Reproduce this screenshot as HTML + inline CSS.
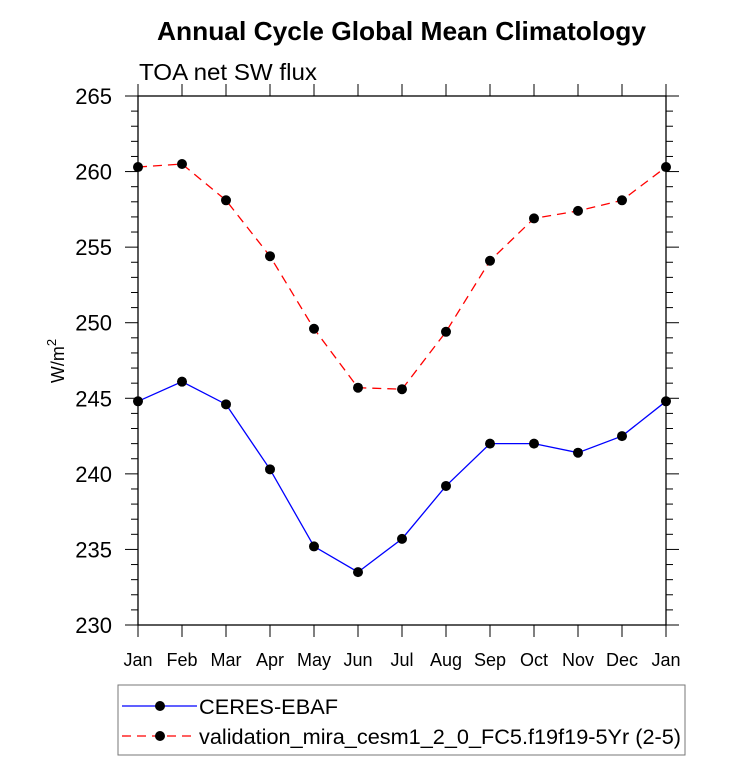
<!DOCTYPE html>
<html><head><meta charset="utf-8"><style>
body{margin:0;background:#fff}
svg text{font-family:"Liberation Sans",sans-serif}
</style></head><body>
<svg width="733" height="777" xmlns="http://www.w3.org/2000/svg">
<g id="g"></g>
</svg>
<script>
const months=["Jan","Feb","Mar","Apr","May","Jun","Jul","Aug","Sep","Oct","Nov","Dec","Jan"];
const ceres=[244.8,246.1,244.6,240.3,235.2,233.5,235.7,239.2,242.0,242.0,241.4,242.5,244.8];
const model=[260.3,260.5,258.1,254.4,249.6,245.7,245.6,249.4,254.1,256.9,257.4,258.1,260.3];
const yTicks=[230,235,240,245,250,255,260,265];
const L=138,R=666,T=96,B=625,ymin=230,ymax=265;
const X=i=>L+i*(R-L)/12;
const Y=v=>B-(v-ymin)/(ymax-ymin)*(B-T);
const NS="http://www.w3.org/2000/svg";
const g=document.getElementById('g');
function el(t,a,txt){const e=document.createElementNS(NS,t);for(const k in a)e.setAttribute(k,a[k]);if(txt!==undefined)e.textContent=txt;g.appendChild(e);return e;}
let e;
e=el('text',{x:157,y:40,'font-size':26,'font-weight':'bold',textLength:489,lengthAdjust:'spacingAndGlyphs'},'Annual Cycle Global Mean Climatology');

e=el('text',{x:139,y:80,'font-size':23,textLength:178,lengthAdjust:'spacingAndGlyphs'},'TOA net SW flux');

e=el('rect',{x:L,y:T,width:R-L,height:B-T,fill:'none',stroke:'#000','stroke-width':1.3});

for(let v=ymin;v<=ymax;v++){const maj=(v%5===0);const len=maj?13:7;
 e=el('line',{x1:L-len,x2:L,y1:Y(v),y2:Y(v),stroke:'#000','stroke-width':1});
 
 e=el('line',{x1:R,x2:R+len,y1:Y(v),y2:Y(v),stroke:'#000','stroke-width':1});
 }
yTicks.forEach(v=>{e=el('text',{x:112,y:Y(v)+8,'font-size':22,'text-anchor':'end'},String(v));
 });
months.forEach((m,i)=>{
 e=el('line',{x1:X(i),x2:X(i),y1:B,y2:B+12,stroke:'#000'});
 e=el('line',{x1:X(i),x2:X(i),y1:T-12,y2:T,stroke:'#000'});
 e=el('text',{x:X(i),y:666,'font-size':18,'text-anchor':'middle'},m);});
e=el('text',{x:0,y:0,'font-size':18,'text-anchor':'middle',transform:'translate(64,361) rotate(-90)'});
e.innerHTML='W/m<tspan dy="-8" font-size="13">2</tspan>';

function series(vals,color,dash,name){
 e=el('polyline',{points:vals.map((v,i)=>X(i)+','+Y(v)).join(' '),fill:'none',stroke:color,'stroke-width':1.3,'stroke-dasharray':dash});
 
 vals.forEach((v,i)=>{e=el('circle',{cx:X(i),cy:Y(v),r:5,fill:'#000'});
 });}
series(model,'#ff0000','9 6','model');
series(ceres,'#0000ff','none','ceres');
e=el('rect',{x:118,y:685,width:567,height:70,fill:'none',stroke:'#777','stroke-width':1});

[['#0000ff','none','CERES-EBAF',706,139],['#ff0000','9 6','validation_mira_cesm1_2_0_FC5.f19f19-5Yr (2-5)',736,482]].forEach(([c,d,t,y,w])=>{
 e=el('line',{x1:122,x2:197,y1:y,y2:y,stroke:c,'stroke-width':1.3,'stroke-dasharray':d});
 e=el('circle',{cx:160,cy:y,r:5,fill:'#000'});
 e=el('text',{x:199,y:y+8,'font-size':21,textLength:w,lengthAdjust:'spacingAndGlyphs'},t);});
</script>
</body></html>
